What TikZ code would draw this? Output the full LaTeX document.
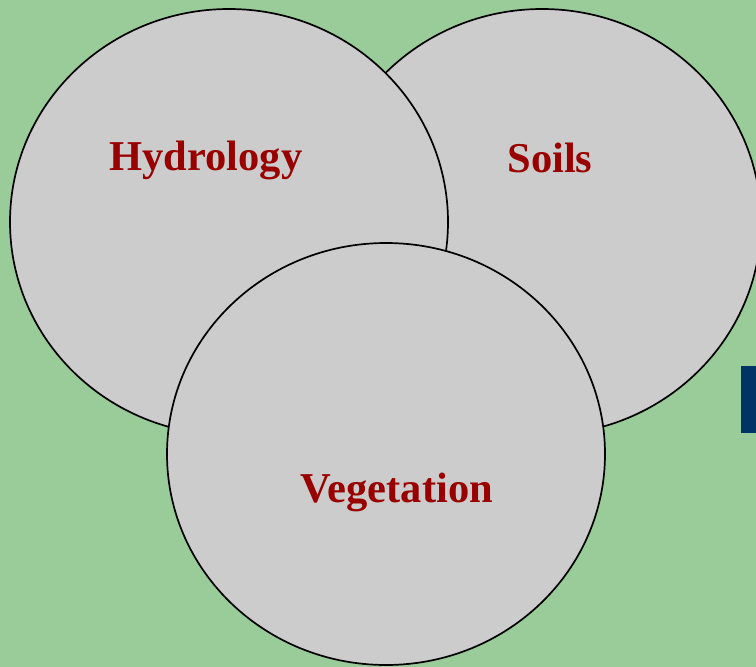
\documentclass[tikz,border=0pt]{standalone}
\usepackage{fontspec}
\setmainfont{Liberation Serif}
\definecolor{bggreen}{HTML}{99CC99}
\definecolor{cgray}{HTML}{CCCCCC}
\definecolor{lbl}{HTML}{990000}
\definecolor{navy}{HTML}{003366}
\begin{document}
\begin{tikzpicture}[x=1pt,y=-1pt,
  setcirc/.style={fill=cgray,draw=black,line width=1.7pt},
  setlbl/.style={text=lbl,font=\fontsize{42.5}{42.5}\selectfont\bfseries,anchor=base,inner sep=0pt}]
\fill[bggreen] (0,0) rectangle (756,667);
\useasboundingbox (0,0) rectangle (756,667);
\fill[navy] (741,366) rectangle (757,433);
\begin{scope}
\clip (0,0) rectangle (756,667);
\draw[setcirc] (542,222) ellipse [x radius=219, y radius=213];
\draw[setcirc] (229,222) ellipse [x radius=219, y radius=213];
\draw[setcirc] (386,454) ellipse [x radius=219, y radius=211];
\end{scope}
\node[setlbl] (hyd) at (206,170) {Hydrology};
\node[setlbl] (soi) at (550,172) {Soils};
\node[setlbl] (veg) at (397,502) {Vegetation};
\end{tikzpicture}
\end{document}
